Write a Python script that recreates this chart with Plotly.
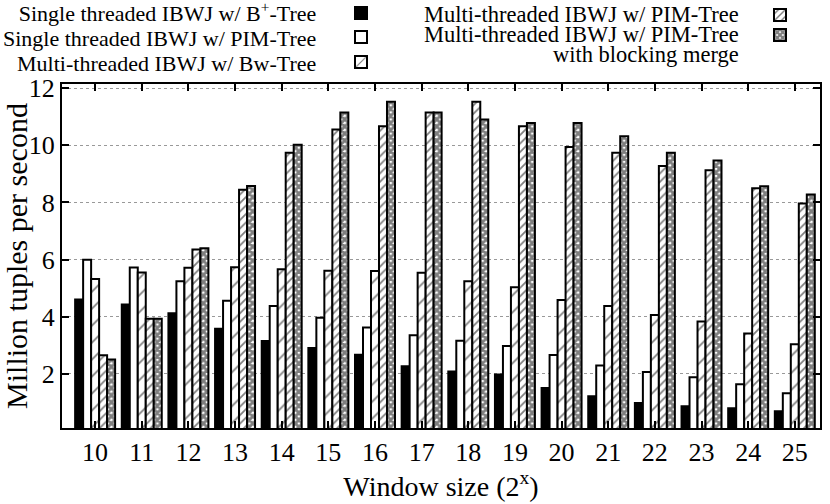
import plotly.graph_objects as go

# window size exponent (2^x)
window_sizes = list(range(10, 26))

# million tuples per second
single_bplus = [4.60, 4.43, 4.12, 3.58, 3.15, 2.90, 2.67, 2.26, 2.08, 1.97, 1.50, 1.21, 0.98, 0.86, 0.79, 0.69]
single_pim = [5.99, 5.72, 5.24, 4.56, 4.37, 3.96, 3.62, 3.35, 3.16, 2.97, 2.66, 2.29, 2.06, 1.88, 1.63, 1.32]
multi_bw = [5.32, 5.55, 5.71, 5.73, 5.66, 5.61, 5.60, 5.54, 5.24, 5.03, 4.58, 4.37, 4.06, 3.83, 3.41, 3.03]
multi_pim = [2.65, 3.93, 6.35, 8.45, 9.74, 10.56, 10.67, 11.15, 11.53, 10.67, 9.94, 9.74, 9.28, 9.13, 8.50, 7.96]
multi_pim_blocking = [2.50, 3.93, 6.40, 8.58, 10.02, 11.15, 11.53, 11.15, 10.91, 10.78, 10.78, 10.32, 9.74, 9.47, 8.57, 8.28]

labels = [
    "Single threaded IBWJ w/ B<sup>+</sup>-Tree",
    "Single threaded IBWJ w/ PIM-Tree",
    "Multi-threaded IBWJ w/ Bw-Tree",
    "Multi-threaded IBWJ w/ PIM-Tree",
    "Multi-threaded IBWJ w/ PIM-Tree with blocking merge",
]

FONT = "Liberation Serif"

# plot area in pixels (for placing the gnuplot-style key)
L, R, T, B = 62, 820, 84, 428


def px_x(x):
    return (x - L) / (R - L)


def px_y(y):
    return (B - y) / (B - T)


styles = [
    dict(color="black"),
    dict(color="white"),
    dict(color="white", pattern=dict(shape="/", fgcolor="black", bgcolor="white", size=12, solidity=0.14)),
    dict(color="white", pattern=dict(shape="/", fgcolor="black", bgcolor="white", size=6, solidity=0.3)),
    dict(color="white", pattern=dict(shape="x", fgcolor="black", bgcolor="white", size=5, solidity=0.8)),
]

# key swatch positions (x, y) in pixels
key_pos = [(361, 13), (361, 37), (361, 62), (780, 15), (780, 35)]

series = [single_bplus, single_pim, multi_bw, multi_pim, multi_pim_blocking]

fig = go.Figure()
for i, (vals, lab, st) in enumerate(zip(series, labels, styles)):
    fig.add_trace(
        go.Bar(
            x=window_sizes,
            y=vals,
            name="",
            legend="legend" if i == 0 else f"legend{i + 1}",
            showlegend=True,
            marker=dict(line=dict(color="black", width=2), **st),
            hovertemplate=lab + ": %{y}<extra></extra>",
        )
    )

layout_legends = {}
for i, (sx, sy) in enumerate(key_pos):
    key = "legend" if i == 0 else f"legend{i + 1}"
    layout_legends[key] = dict(
        x=px_x(sx - 20), y=px_y(sy), xanchor="left", yanchor="middle",
        bgcolor="rgba(0,0,0,0)", borderwidth=0, font=dict(family=FONT, size=20),
        itemclick=False, itemdoubleclick=False,
    )


def key_text(lines, size):
    return "<br>".join(f'<span style="font-size:{size}px">{t}</span>' for t in lines)


# gnuplot key text: right aligned, sitting left of the swatches
left_key = key_text(labels[:3], 22)
right_key = key_text(
    ["Multi-threaded IBWJ w/ PIM-Tree", "Multi-threaded IBWJ w/ PIM-Tree", "with blocking merge"], 22.5
)
annotations = [
    dict(text=left_key, x=px_x(318), y=px_y(37), xref="paper", yref="paper",
         xanchor="right", yanchor="middle", align="right", showarrow=False,
         font=dict(family=FONT, size=19, color="black")),
    dict(text=right_key, x=px_x(741), y=px_y(35), xref="paper", yref="paper",
         xanchor="right", yanchor="middle", align="right", showarrow=False,
         font=dict(family=FONT, size=15.4, color="black")),
]

fig.update_layout(
    width=830,
    height=504,
    margin=dict(l=L, r=830 - R, t=T, b=504 - B, autoexpand=False),
    barmode="group",
    bargap=0.143,
    bargroupgap=0,
    plot_bgcolor="white",
    paper_bgcolor="white",
    font=dict(family=FONT, size=26, color="black"),
    annotations=annotations,
    **layout_legends,
)
fig.update_xaxes(
    range=[9.29, 25.54],
    tickvals=window_sizes,
    ticks="inside",
    ticklen=7,
    tickwidth=2,
    tickcolor="black",
    showline=True,
    linecolor="black",
    linewidth=2,
    mirror="ticks",
    showgrid=False,
    title=dict(text="Window size (2<sup>x</sup>)", font=dict(size=28), standoff=4),
    tickfont=dict(size=26),
)
fig.update_yaxes(
    range=[0.1, 12.15],
    tickvals=[2, 4, 6, 8, 10, 12],
    ticks="inside",
    ticklen=7,
    tickwidth=2,
    tickcolor="black",
    showline=True,
    linecolor="black",
    linewidth=2,
    mirror="ticks",
    showgrid=True,
    gridcolor="#999999",
    griddash="dot",
    gridwidth=1,
    zeroline=False,
    title=dict(text="Million tuples per second", font=dict(size=30), standoff=8),
    tickfont=dict(size=26),
)

# the page's default 8px body margin would push the 830x504 figure off the window
fig.write_html(
    "out.html",
    config={"displayModeBar": False},
    post_script="document.body.style.margin = '0';",
)
